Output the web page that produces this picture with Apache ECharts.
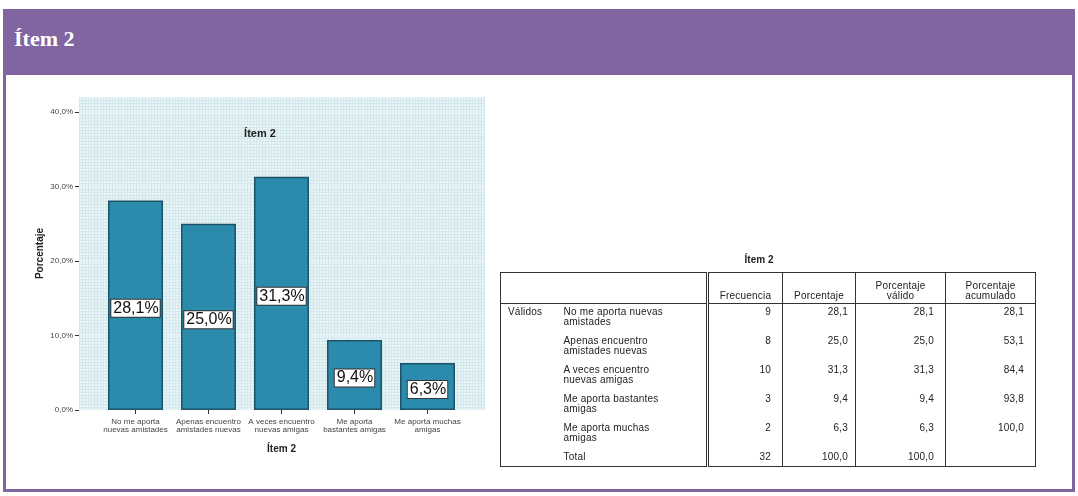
<!DOCTYPE html>
<html>
<head>
<meta charset="utf-8">
<script src="https://cdn.jsdelivr.net/npm/echarts@6/dist/echarts.min.js"></script>
<style>
  html, body { margin: 0; padding: 0; background: #fff; }
  #page { position: relative; width: 1078px; height: 496px; overflow: hidden; }
  #frame { position: absolute; left: 3px; top: 9px; width: 1066px; height: 480px;
           border: 3px solid #8165a1; border-top: none; }
  #band { position: absolute; left: 3px; top: 9px; width: 1072px; height: 66px; background: #8165a1; }
  #band span { position: absolute; left: 11px; top: 17px; color: #fff;
               font: bold 22px "Liberation Serif", "DejaVu Serif", serif; }
  #chart { position: absolute; left: 0; top: 0; width: 1078px; height: 496px; }
  #tblTitle { position: absolute; left: 484px; width: 550px; top: 254px; text-align: center;
              font: bold 10px "Liberation Sans", Arial, sans-serif; color: #222; }
  #tbl { position: absolute; left: 500px; top: 272px; border-collapse: collapse;
         border: 1.5px solid #333; font: 10px "Liberation Sans", Arial, sans-serif; color: #222;
         letter-spacing: 0.2px; }
  #tbl td { padding: 0; vertical-align: top; line-height: 10px; }
  #tbl tr.head td { height: 31px; vertical-align: bottom; text-align: center; padding-bottom: 2px;
                    border-bottom: 1px solid #333; box-sizing: border-box; }
  #tbl tr.row td { height: 29px; padding-top: 3px; box-sizing: border-box; }
  #tbl tr.total td { height: 18px; padding-top: 3px; box-sizing: border-box; }
  #tbl td.num { text-align: right; padding-right: 11px; }
  #tbl td.c0 { width: 57px; padding-left: 7px; box-sizing: border-box; }
  #tbl td.c1 { width: 150px; padding-left: 6px; box-sizing: border-box; }
  #tbl td.sep { border-left: 3px double #333; }
  #tbl td.vl { border-left: 1px solid #333; }
</style>
</head>
<body>
<div id="page">
  <div id="frame"></div>
  <div id="band"><span>Ítem 2</span></div>
  <div id="chart"></div>
  <div id="tblTitle">Ítem 2</div>
  <table id="tbl"></table>
</div>
<script>
// Response categories for item 2
var categories = [
  'No me aporta\nnuevas amistades',
  'Apenas encuentro\namistades nuevas',
  'A veces encuentro\nnuevas amigas',
  'Me aporta\nbastantes amigas',
  'Me aporta muchas\namigas'
];
// Row labels used in the frequency table
var rowLabels = [
  'No me aporta nuevas<br>amistades',
  'Apenas encuentro<br>amistades nuevas',
  'A veces encuentro<br>nuevas amigas',
  'Me aporta bastantes<br>amigas',
  'Me aporta muchas<br>amigas'
];
var frecuencia = [9, 8, 10, 3, 2];
var porcentaje = [28.1, 25.0, 31.3, 9.4, 6.3];
var porcentajeValido = [28.1, 25.0, 31.3, 9.4, 6.3];
var porcentajeAcumulado = [28.1, 53.1, 84.4, 93.8, 100.0];
var totalFrecuencia = 32;
var totalPorcentaje = 100.0;
var yTicks = [0, 10, 20, 30, 40];

function fmt(v) { return v.toFixed(1).replace('.', ','); }

// Frequency table
(function () {
  var h = '<tr class="head"><td class="c0"></td><td class="c1"></td>' +
    '<td class="sep" style="width:75px">Frecuencia</td>' +
    '<td class="vl" style="width:73px">Porcentaje</td>' +
    '<td class="vl" style="width:90px">Porcentaje<br>válido</td>' +
    '<td class="vl" style="width:90px">Porcentaje<br>acumulado</td></tr>';
  for (var i = 0; i < rowLabels.length; i++) {
    h += '<tr class="row"><td class="c0">' + (i === 0 ? 'Válidos' : '') + '</td>' +
      '<td class="c1">' + rowLabels[i] + '</td>' +
      '<td class="sep num">' + frecuencia[i] + '</td>' +
      '<td class="vl num" style="padding-right:7px">' + fmt(porcentaje[i]) + '</td>' +
      '<td class="vl num">' + fmt(porcentajeValido[i]) + '</td>' +
      '<td class="vl num">' + fmt(porcentajeAcumulado[i]) + '</td></tr>';
  }
  h += '<tr class="total"><td class="c0"></td><td class="c1">Total</td>' +
    '<td class="sep num">' + totalFrecuencia + '</td>' +
    '<td class="vl num" style="padding-right:7px">' + fmt(totalPorcentaje) + '</td>' +
    '<td class="vl num">' + fmt(totalPorcentaje) + '</td>' +
    '<td class="vl num"></td></tr>';
  document.getElementById('tbl').innerHTML = h;
})();

var font = '"Liberation Sans", Arial, sans-serif';
var chart = echarts.init(document.getElementById('chart'), null, { renderer: 'canvas' });
chart.setOption({
  animation: false,
  backgroundColor: 'transparent',
  title: {
    text: 'Ítem 2', left: 255, top: 123, textAlign: 'center',
    textStyle: { fontFamily: font, fontSize: 11, fontWeight: 'bold', color: '#222' }
  },
  grid: [
    // plot background with fine mesh
    { left: 79, top: 97, width: 405, height: 313, show: true, backgroundColor: '#e8f4f6', borderWidth: 0 },
    // bar area
    { left: 99, top: 97, width: 365, height: 313 }
  ],
  xAxis: [
    {
      type: 'value', gridIndex: 0, min: 0, max: 405, interval: 3,
      axisLine: { show: false }, axisTick: { show: false }, axisLabel: { show: false },
      splitLine: { show: true, lineStyle: { color: '#d2e8ec', width: 1 } }
    },
    {
      type: 'category', gridIndex: 1, data: categories,
      axisLine: { show: false },
      axisTick: { show: true, alignWithLabel: true, length: 4, lineStyle: { color: '#333' } },
      axisLabel: { interval: 0, margin: 8, fontSize: 8, lineHeight: 8, color: '#444', fontFamily: font },
      name: 'Ítem 2', nameLocation: 'middle', nameGap: 34,
      nameTextStyle: { fontFamily: font, fontSize: 10, fontWeight: 'bold', color: '#222' }
    }
  ],
  yAxis: [
    {
      type: 'value', gridIndex: 0, min: 0, max: 42, interval: 10,
      axisLine: { show: false },
      axisTick: { show: true, length: 4, customValues: yTicks, lineStyle: { color: '#333' } },
      axisLabel: {
        customValues: yTicks, margin: 6, fontSize: 8, color: '#444', fontFamily: font,
        formatter: function (v) { return fmt(v) + '%'; }
      },
      splitLine: { show: false },
      minorTick: { show: false, splitNumber: 25 },
      minorSplitLine: { show: true, lineStyle: { color: '#d2e8ec', width: 1 } },
      name: 'Porcentaje', nameLocation: 'middle', nameGap: 34, nameRotate: 90,
      nameTextStyle: { fontFamily: font, fontSize: 10, fontWeight: 'bold', color: '#222' }
    },
    {
      type: 'value', gridIndex: 1, min: 0, max: 42, interval: 10, show: false
    }
  ],
  series: [{
    type: 'bar', xAxisIndex: 1, yAxisIndex: 1, data: porcentaje, barWidth: 55,
    itemStyle: { color: '#2b8bad', borderColor: '#1e5266', borderWidth: 1.5 },
    label: {
      show: true, position: 'inside', offset: [0, 3],
      formatter: function (p) { return fmt(p.value) + '%'; },
      fontFamily: font, fontSize: 16, color: '#111',
      backgroundColor: '#fff', borderColor: '#333', borderWidth: 1, padding: [1, 1, 0, 2]
    }
  }]
});
</script>
</body>
</html>
